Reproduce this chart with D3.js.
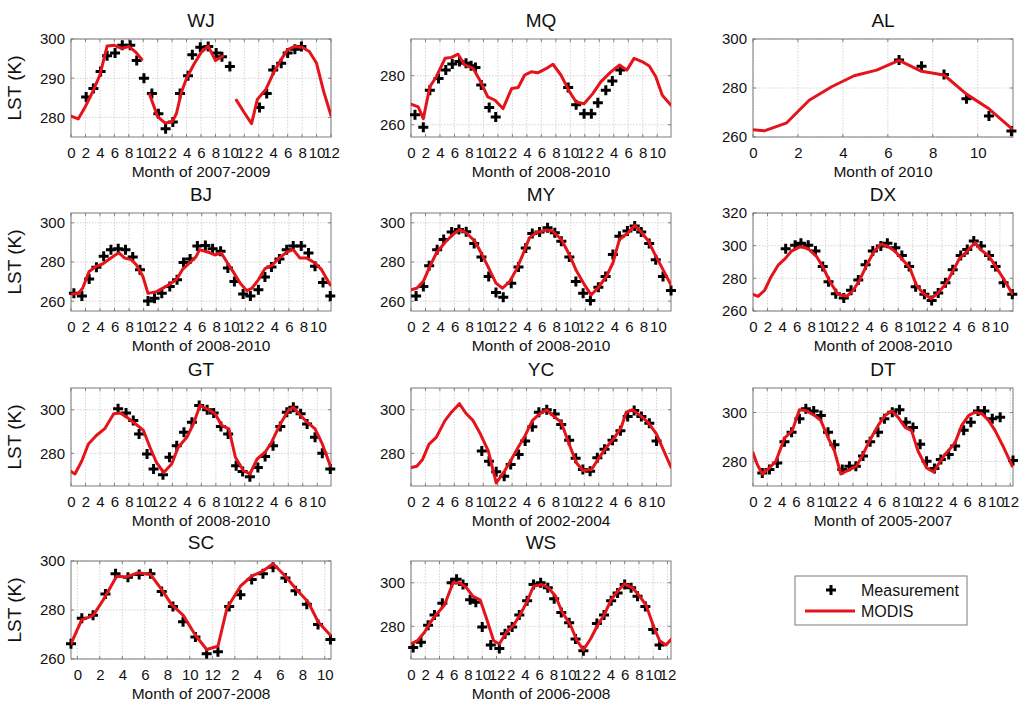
<!DOCTYPE html>
<html><head><meta charset="utf-8">
<script src="https://cdn.jsdelivr.net/npm/d3@7"></script>
<style>
body{margin:0;background:#fff}
svg{display:block}
text{font-family:"Liberation Sans",Arial,Helvetica,sans-serif;fill:#111}
</style></head><body>
<svg id="chart" width="1022" height="704"></svg>
<script>
// ---------------- DATA ----------------
const siteNames = ["WJ","MQ","AL","BJ","MY","DX","GT","YC","DT","SC","WS"];
const xLabels = ["Month of 2007-2009","Month of 2008-2010","Month of 2010","Month of 2008-2010","Month of 2008-2010","Month of 2008-2010","Month of 2008-2010","Month of 2002-2004","Month of 2005-2007","Month of 2007-2008","Month of 2006-2008"];
const legendLabels = ["Measurement","MODIS"];

// WJ
const wjModisX = [0,1,2,3,4,5,6,7,8,9,9.8,null,10.9,12,13,14,14.6,15.3,16,17,18,19,20,21,null,22.9,24,25,25.8,27,28,29,30,31,32,33,34,35,36];
const wjModisY = [280.3,279.6,282.8,286.5,290.8,298.2,298.4,297.6,298.1,296.6,294.8,null,285.8,280.2,278.6,278.8,281,286.5,290,293.5,296.5,298.2,294.5,295.6,null,284.4,281.2,278.4,284.6,287.2,291.2,294.5,297.3,298.1,297.9,296.8,293.8,286.5,280.5];
const wjMeasX = [2.1,3.1,4.1,5,6.1,7.1,8.2,9.1,10.1,11.2,12.1,13.1,14.1,15.1,16.2,16.8,17.9,19,20.1,20.9,22,26.1,27.1,28,29.1,30,31,31.9];
const wjMeasY = [285.2,287.4,291.7,295.7,296.4,298.4,298.4,294.5,290,286.1,280.9,277.1,278.8,286.1,290.6,296,297.9,298.1,296.4,295.5,293,282.5,286.1,292.1,293.8,296.4,297.4,298.1];

// MQ
const mqModisX = [0,1,1.7,2.6,3.5,4.7,5.6,6.5,7.4,8.6,9.5,10.6,11.6,12.7,13.9,14.8,15.7,16.6,17.5,18.7,19.6,20.7,21.9,22.8,23.9,25.1,26.2,27.6,28.8,29.8,30.8,31.9,32.9,33.8,34.7,35.9];
const mqModisY = [268.4,267.3,262.5,275.5,279.6,287.1,287.5,288.8,284.4,283,278.2,271.4,270,266.6,274.8,275.2,280.3,281.6,281.2,283,284.7,280.3,273.4,269.3,268.6,272.7,277.5,281.6,284.4,282.3,287.1,285.8,284,279.6,272,268];
const mqMeasX = [0.55,1.7,2.6,3.8,4.8,5.7,6.7,7.6,8.3,8.9,9.7,10.8,11.7,21.7,22.8,23.9,24.9,25.8,26.9,27.8,28.9];
const mqMeasY = [264.1,259,274.1,278.9,282.3,284.8,285.8,285.1,284.1,283.4,276.2,267,263.2,275.2,268.2,264.5,264.5,269,274.1,277.9,282.3];

// AL
const alModisX = [0,0.5,1.5,2.5,3.5,4.5,5.5,6.5,7.5,8.5,9.5,10.5,11.5];
const alModisY = [263,262.5,265.8,275,280.5,285,287.3,291.3,286.8,285.3,277.5,271.5,263.5];
const alMeasX = [6.5,7.5,8.5,9.5,10.5,11.5];
const alMeasY = [291.4,288.9,285.5,275.6,268.6,262.4];

// BJ
const bjModisX = [0,1,1.6,2.5,3.5,4.4,5.3,6.2,6.6,7.4,8.3,9,9.9,10.6,11.8,13.2,14.5,15.4,16.3,17.2,17.7,18.9,19.8,20.7,21.7,22.3,23.3,24.2,24.9,25.8,26.7,27.6,28.7,29.7,30.6,31.5,32.4,33.6,34.5,35.7];
const bjModisY = [263.7,263.9,266.6,275.2,277.8,279.1,281.5,283.8,284.6,282,281.2,278.6,272.6,264,264.9,267.8,270.9,276.4,279.5,282.6,286.3,285,283.6,284.6,278.6,275.2,269.2,265.4,266.6,270.9,276.6,278.1,282.1,285,286.3,282.1,282.1,279.5,276.1,268.3];
const bjMeasX = [0.4,1.5,2.5,3.5,4.5,5.5,6.5,7.5,8.5,9.5,10.6,11.5,12.5,13.6,14.6,15.5,16.4,17.4,18.5,19.5,20.6,21.6,22.5,23.7,24.7,25.8,26.7,27.6,28.7,29.7,30.6,31.7,32.7,33.6,34.7,35.7];
const bjMeasY = [264,262.7,271.3,277.3,282.9,286.3,286.7,286.3,282.6,276.1,260.1,261.5,264,267.5,270.9,279.8,281.5,288.1,288.4,286.7,285.5,276.9,270.1,263.7,262.7,265.8,272.3,277.4,281.5,286.3,288.1,288.1,284.6,277.8,269.5,262.7];

// MY
const myModisX = [0,0.8,1.7,2.6,3.5,4.7,5.8,6.7,7.6,8.8,9.9,10.8,11.7,12.6,13.6,14.5,15.4,16.3,17.2,18.6,19.5,20.7,21.8,22.7,23.9,24.8,25.7,26.9,27.8,28.7,29.9,30.8,31.7,32.7,33.6,34.7,35.8];
const myModisY = [265.8,266.6,270.1,277.8,284.6,290.1,294.1,296.6,294.9,290.6,282.9,276.1,269.2,266.6,270.1,276.1,283.8,292.3,294.9,296.3,295.8,291.5,283.8,276.1,268.3,263.2,266.6,272.6,279.5,291.5,294.9,298.7,295.3,290.6,283.8,276.1,268.3];
const myMeasX = [0.7,1.7,2.5,3.6,4.5,5.6,6.6,7.6,8.7,9.7,10.7,11.7,12.7,13.8,14.8,15.8,16.7,17.7,18.8,19.8,20.7,21.8,22.7,23.7,24.7,25.8,26.8,27.8,28.7,29.8,30.8,31.7,32.8,33.7,34.7,35.8];
const myMeasY = [262.7,267.5,278.1,286.3,291.5,295.3,296.6,295.4,289.4,282.6,272.6,264.4,262,269.2,277.4,287.2,294.6,295.3,297.5,294.9,290.6,282.6,270.1,264,260.3,267.1,272.6,283.8,293.2,295.8,298.4,295.3,289.4,281.2,272.6,265.4];

// DX
const dxModisX = [0,0.7,1.6,2.5,3.5,4.4,5.3,6.5,7.6,8.8,9.7,10.6,11.7,12.9,13.8,14.7,15.8,16.7,17.6,18.5,19.5,20.4,21.6,22.5,23.4,24.5,25.4,26.6,27.5,28.4,29.5,30.6,31.3,32.5,33.4,34.6,35.7];
const dxModisY = [270.2,269,272.7,281,288.3,291.9,296.7,299.4,298.1,293.1,286.3,277.9,270.2,269,272.7,279,289.4,296.7,300.8,299.8,296.7,292.5,286.3,275.8,271,267.5,270.6,276.9,284.2,291.9,296.7,301.9,297.7,293.5,287.3,279,270.6];
const dxMeasX = [4.5,5.8,6.6,7.6,8.6,9.6,10.4,11.4,12.5,13.5,14.5,15.5,16.5,17.6,18.5,19.6,20.5,21.5,22.4,23.6,24.6,25.5,26.5,27.5,28.6,29.5,30.4,31.4,32.5,33.4,34.5,35.7];
const dxMeasY = [298.1,300.2,301.5,300.2,296.7,287.3,277.9,270.6,267.9,272.7,279,288.3,296.7,299.8,301.5,298.8,294,287.3,274.8,270.2,266.5,271,277.3,285.2,294,297.7,302.9,299.8,294,287.3,277.3,270.2];

// GT
const gtModisX = [0,0.55,1.5,2.4,3.5,4.7,5.9,6.8,7.7,8.8,10,10.9,11.8,12.8,13.9,14.8,16,16.9,17.8,19,19.9,20.8,21.8,22.7,23.8,24.7,25.7,26.8,27.7,28.9,30,30.7,31.7,32.6,33.7,34.7,35.8];
const gtModisY = [271.7,270.5,276.6,284.3,288.2,291.5,298.2,298.5,296.6,293.8,290.5,282.8,275.8,271.2,275.1,282.8,287.4,293.5,302,300,298.2,292.8,291.2,278.2,272,270.5,277.4,280.5,285.1,293.5,299.7,301.2,297.4,294.3,291.2,284.3,274.3];
const gtMeasX = [6.5,7.6,8.6,9.4,10.5,11.4,12.7,13.6,14.6,15.6,16.7,17.7,18.8,19.7,20.7,21.7,22.8,23.7,24.7,25.8,26.8,27.9,28.9,29.8,30.7,31.7,32.6,33.7,34.7,35.8];
const gtMeasY = [300.5,298.5,295.1,288.9,279.7,272.8,270.2,278.2,283.5,289.7,294.3,302,300,298.5,292.3,288.9,274.3,271.7,269.2,273.5,278.5,283.5,292.3,298.9,301.2,298.2,293.5,287.4,280,272.8];

// YC
const ycModisX = [0,0.8,1.6,2.5,3.5,4.7,5.6,6.7,7.6,8.6,9.5,10.7,11.8,12.8,13.9,14.8,15.8,16.8,17.8,18.8,19.9,20.8,21.9,22.9,23.8,25,25.9,27,28.2,29.1,29.8,30.7,31.7,32.8,34,34.9,36];
const ycModisY = [273.5,274.1,277.2,284.2,287.3,295,298.9,302.8,298.4,295,289.6,281.1,266.4,271,277.2,282.6,288.1,295,298.1,300,296.6,294.3,284.2,275.7,272.1,272.6,277.2,282.6,287.3,291.9,298.9,300,297.4,294.3,288.8,281.9,273.6];
const ycMeasX = [9.8,10.8,11.8,12.9,13.8,14.9,15.8,16.8,17.7,18.8,19.9,20.8,21.9,22.8,23.8,24.8,25.8,26.8,27.9,29,30,30.9,31.9,33,34];
const ycMeasY = [281.1,276.4,271.5,269.5,274.9,279.5,285.7,292.2,298.9,300,298.1,293.2,286,277.7,272.6,271.8,278,281.9,286,290.4,296.9,299.7,296.9,293.8,285.7];

// DT
const dtModisX = [0,0.6,1.3,2.3,3.2,4.4,5.5,6.5,7.4,8.6,9.5,10.5,11.4,12.3,13.5,14.5,15.4,16.3,17.5,18.5,19.4,20.3,21.3,22.2,23.1,24.3,25.3,26.2,27.1,28.3,29.2,30.2,31.1,32.1,33,33.9,35.1,36.3];
const dtModisY = [283.6,278.8,274.9,277.4,280.1,289.5,292.6,301.1,300.8,298.8,296.7,289.8,284.3,274.9,276.7,278.1,282.9,288.4,294.6,298.8,300.6,298.1,293.9,292.6,284.3,277.4,275.7,280.1,283.6,287.7,294.6,298.8,300.1,299.4,296.7,292.6,285.7,278.1];
const dtMeasX = [1.3,2.3,3.4,4.4,5.4,6.5,7.4,8.5,9.5,10.5,11.4,12.5,13.5,14.4,15.4,16.4,17.5,18.4,19.5,20.5,21.4,22.4,23.4,24.3,25.4,26.3,27.4,28.3,29.5,30.5,31.5,32.4,33.5,34.6,36.4];
const dtMeasY = [275.3,276.7,279.4,288.1,291.9,297.4,301.5,300.6,298.8,291.9,286.8,276.7,278.1,278.1,282.2,288.1,291.9,297.4,300.1,301.1,296,293.9,287,280.1,277.1,280.8,282.9,286.3,292.8,296,300.6,300.6,297.4,298.1,280.4];

// SC
const scModisX = [-0.56,0.4,1,1.4,2.3,3.5,4.4,5.4,6.5,7.5,8.4,9.4,10.5,11.5,12.5,13.3,14.5,15.5,16.5,17.4,18.5,19.5,20.5,21.4,22.5];
const scModisY = [266.2,276.1,277,277.7,284.1,293.8,293.5,295.2,294.5,288.3,282.1,277.9,269.7,263.9,265.2,280.7,289.7,293.8,295.9,298.9,293.8,288.3,283.4,275.2,269.7];
const scMeasX = [-0.56,0.4,1.4,2.5,3.4,4.5,5.5,6.5,7.5,8.5,9.4,10.5,11.5,12.5,13.5,14.5,15.5,16.5,17.4,18.5,19.4,20.4,21.4,22.5];
const scMeasY = [266.2,276.6,277.9,286.5,294.8,293.4,294.5,294.8,287.6,281.4,275.2,269,262.1,263,281.4,286.2,292.4,294.8,297.5,293.1,287.9,282.3,274.1,268];

// WS
const wsModisX = [0,0.9,1.9,2.6,3.5,4.7,5.9,6.8,7.8,8.7,9.7,10.6,11.6,12.4,13.4,14.4,15.3,16.3,17.2,18.4,19.3,20.3,21.2,22.4,23.3,24.2,25.2,26.2,27.1,28.1,29.2,30,31.1,32.1,33,34,34.9,35.8,36.8];
const wsModisY = [271.9,273.4,277.3,281.3,285.2,289.8,300,300,297.7,293.8,292.2,283.6,273.4,271.9,277.3,280.5,285.2,291.4,298.4,299.2,297.7,293.8,286.7,280.5,273.4,269.2,274.2,280.5,285.2,292.2,296.9,299.5,297.7,293.8,289.8,280.5,273.4,271.4,275];
const wsMeasX = [0.3,1.4,2.4,3.3,4.4,5.7,6.4,7.3,8.3,9.1,10,11.2,12.4,13.2,14.2,15.2,16.3,17.2,18.2,19.2,20.1,21.1,22.2,23.1,24.2,26.1,27.1,28.1,29,30,30.9,31.8,32.9,34,34.9];
const wsMeasY = [270.3,272.7,280.5,285.2,290.6,300,301.6,299.2,292.2,291.1,279.7,271.4,269.8,276.6,279.7,285.2,291.7,299.2,300,297.7,292.7,286.4,281.7,274.2,268.8,281.3,285.2,291.7,295.3,299.2,297.7,293.8,289.1,278.6,271.4];

// ---------------- LAYOUT ----------------
const colX = [71, 411, 753], rowY = [39, 213, 388, 561], PW = 260, PH = 98;
const panels = [
  {i:0, c:0, r:0, xd:[0,36],    yd:[275,300], yt:[280,290,300], mx:wjModisX, my:wjModisY, px:wjMeasX, py:wjMeasY},
  {i:1, c:1, r:0, xd:[0,35.9],  yd:[255,295], yt:[260,280],     mx:mqModisX, my:mqModisY, px:mqMeasX, py:mqMeasY},
  {i:2, c:2, r:0, xd:[0,11.57], yd:[260,300], yt:[260,280,300], mx:alModisX, my:alModisY, px:alMeasX, py:alMeasY, plain:true},
  {i:3, c:0, r:1, xd:[0,35.8],  yd:[255,305], yt:[260,280,300], mx:bjModisX, my:bjModisY, px:bjMeasX, py:bjMeasY},
  {i:4, c:1, r:1, xd:[0,35.8],  yd:[255,305], yt:[260,280,300], mx:myModisX, my:myModisY, px:myMeasX, py:myMeasY},
  {i:5, c:2, r:1, xd:[0,35.8],  yd:[260,320], yt:[260,280,300,320], mx:dxModisX, my:dxModisY, px:dxMeasX, py:dxMeasY},
  {i:6, c:0, r:2, xd:[0,35.9],  yd:[265,310], yt:[280,300],     mx:gtModisX, my:gtModisY, px:gtMeasX, py:gtMeasY},
  {i:7, c:1, r:2, xd:[0,36],    yd:[265,310], yt:[280,300],     mx:ycModisX, my:ycModisY, px:ycMeasX, py:ycMeasY, maxTick:34},
  {i:8, c:2, r:2, xd:[0,36.4],  yd:[270,310], yt:[280,300],     mx:dtModisX, my:dtModisY, px:dtMeasX, py:dtMeasY},
  {i:9, c:0, r:3, xd:[-0.56,22.55], yd:[260,300], yt:[260,280,300], mx:scModisX, my:scModisY, px:scMeasX, py:scMeasY},
  {i:10,c:1, r:3, xd:[0,36.5],  yd:[265,310], yt:[280,300],     mx:wsModisX, my:wsModisY, px:wsMeasX, py:wsMeasY}
];

const RED = "#e5131a";
const svg = d3.select("#chart");
const defs = svg.append("defs");
const plusPath = "M-5,0H5M0,-5V5";

function monthLabel(v){ return v === 0 ? "0" : String(((v - 1) % 12) + 1); }

panels.forEach(p => {
  const x0 = colX[p.c], y0 = rowY[p.r];
  const g = svg.append("g").attr("transform", `translate(${x0},${y0})`);
  const x = d3.scaleLinear().domain(p.xd).range([0, PW]);
  const y = d3.scaleLinear().domain(p.yd).range([PH, 0]);
  let xt;
  if (p.plain) xt = d3.range(0, 11, 2);
  else {
    const last = p.maxTick !== undefined ? p.maxTick : Math.floor(p.xd[1] / 2) * 2;
    xt = d3.range(0, last + 0.01, 2);
  }
  const fmt = p.plain ? (d => String(d)) : monthLabel;

  // background
  g.append("rect").attr("width", PW).attr("height", PH).attr("fill", "#fff");

  // grid
  g.append("g").selectAll("line").data(xt).join("line")
    .attr("x1", d => x(d)).attr("x2", d => x(d)).attr("y1", 0).attr("y2", PH)
    .attr("stroke", "#c8c8c8").attr("stroke-width", 0.8).attr("stroke-dasharray", "1.5,1.5");
  g.append("g").selectAll("line").data(p.yt).join("line")
    .attr("x1", 0).attr("x2", PW).attr("y1", d => y(d)).attr("y2", d => y(d))
    .attr("stroke", "#c8c8c8").attr("stroke-width", 0.8).attr("stroke-dasharray", "1.5,1.5");

  // axes via d3
  const xAxis = d3.axisBottom(x).tickValues(xt).tickFormat(fmt).tickSize(0).tickPadding(8);
  const yAxis = d3.axisLeft(y).tickValues(p.yt).tickSize(0).tickPadding(6);
  const gx = g.append("g").attr("transform", `translate(0,${PH})`).call(xAxis);
  const gy = g.append("g").call(yAxis);
  [gx, gy].forEach(a => { a.select(".domain").remove();
    a.selectAll("text").attr("font-size", 15).attr("fill", "#111")
      .style("font-family", '"Liberation Sans",Arial,sans-serif'); });
  gx.selectAll("text").attr("dy", "0.85em");

  // inward ticks (bottom/top/left/right)
  const tk = g.append("g").attr("stroke", "#666").attr("stroke-width", 0.8);
  xt.forEach(v => {
    tk.append("line").attr("x1", x(v)).attr("x2", x(v)).attr("y1", PH).attr("y2", PH - 3);
    tk.append("line").attr("x1", x(v)).attr("x2", x(v)).attr("y1", 0).attr("y2", 3);
  });
  p.yt.forEach(v => {
    tk.append("line").attr("x1", 0).attr("x2", 3).attr("y1", y(v)).attr("y2", y(v));
    tk.append("line").attr("x1", PW).attr("x2", PW - 3).attr("y1", y(v)).attr("y2", y(v));
  });

  // box
  g.append("rect").attr("width", PW).attr("height", PH).attr("fill", "none")
    .attr("stroke", "#7a7a7a").attr("stroke-width", 1);

  // markers (measurement)
  const meas = p.px.map((v, k) => ({x: v, y: p.py[k]}));
  g.append("g").selectAll("path").data(meas).join("path")
    .attr("d", plusPath)
    .attr("transform", d => `translate(${x(d.x)},${y(d.y)})`)
    .attr("stroke", "#000").attr("stroke-width", 3).attr("fill", "none");

  // MODIS line (clipped)
  const cid = "clip" + p.i;
  defs.append("clipPath").attr("id", cid).append("rect").attr("width", PW).attr("height", PH);
  const modis = p.mx.map((v, k) => ({x: v, y: p.my[k]}));
  const line = d3.line().defined(d => d.x !== null && d.y !== null).x(d => x(d.x)).y(d => y(d.y));
  g.append("path").datum(modis).attr("clip-path", `url(#${cid})`)
    .attr("d", line).attr("fill", "none").attr("stroke", RED).attr("stroke-width", 3)
    .attr("stroke-linejoin", "round").attr("stroke-linecap", "round");

  // title
  g.append("text").attr("x", PW / 2).attr("y", -12).attr("text-anchor", "middle")
    .attr("font-size", 19).text(siteNames[p.i]);
  // x label
  g.append("text").attr("x", PW / 2).attr("y", PH + 40).attr("text-anchor", "middle")
    .attr("font-size", 15.5).text(xLabels[p.i]);
  // y label
  if (p.c === 0) {
    g.append("text").attr("transform", `translate(${21 - x0},${PH / 2}) rotate(-90)`)
      .attr("text-anchor", "middle").attr("font-size", 19).text("LST (K)");
  }
});

// ---------------- LEGEND ----------------
const lg = svg.append("g").attr("transform", "translate(795,576)");
lg.append("rect").attr("width", 172).attr("height", 49).attr("fill", "#fff")
  .attr("stroke", "#7a7a7a").attr("stroke-width", 1);
lg.append("path").attr("d", plusPath).attr("transform", "translate(36,14)")
  .attr("stroke", "#000").attr("stroke-width", 3);
lg.append("line").attr("x1", 10).attr("x2", 60).attr("y1", 35).attr("y2", 35)
  .attr("stroke", RED).attr("stroke-width", 3);
lg.append("text").attr("x", 66).attr("y", 20).attr("font-size", 16).text(legendLabels[0]);
lg.append("text").attr("x", 66).attr("y", 41).attr("font-size", 16).text(legendLabels[1]);
</script>
</body></html>
